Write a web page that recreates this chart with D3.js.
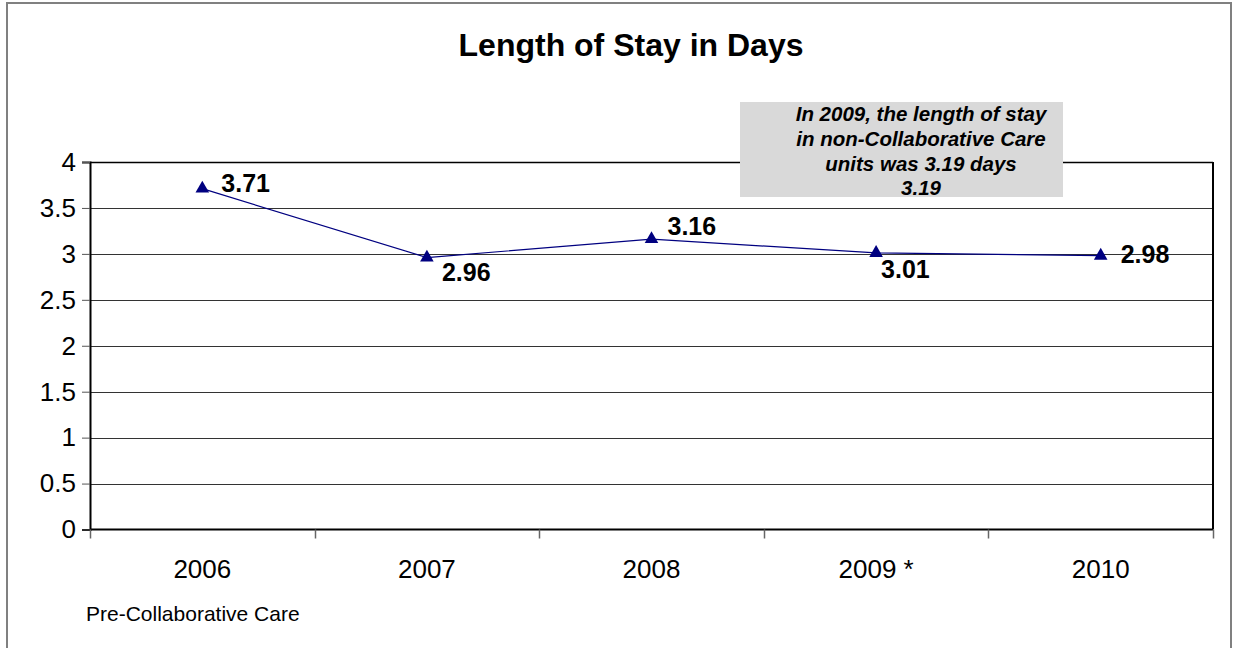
<!DOCTYPE html>
<html>
<head>
<meta charset="utf-8">
<script src="https://cdn.jsdelivr.net/npm/d3@7"></script>
<style>
  html, body { margin: 0; padding: 0; background: #fff; }
  svg { display: block; font-family: Arial, "Liberation Sans", sans-serif; }
</style>
</head>
<body>
<svg id="chart" width="1233" height="648"></svg>
<script>
const categories = ["2006", "2007", "2008", "2009 *", "2010"];
const values = [3.71, 2.96, 3.16, 3.01, 2.98];
const valueLabels = ["3.71", "2.96", "3.16", "3.01", "2.98"];
const yTicks = [0, 0.5, 1, 1.5, 2, 2.5, 3, 3.5, 4];
const titleText = "Length of Stay in Days";
const noteLines = ["In 2009, the length of stay", "in non-Collaborative Care", "units was 3.19 days", "3.19"];
const footText = "Pre-Collaborative Care";

const svg = d3.select("#chart");
const plot = { left: 90, top: 162, right: 1213, bottom: 529.5 };

// outer border
svg.append("rect").attr("x", 7).attr("y", 3).attr("width", 1224).attr("height", 660)
  .attr("fill", "none").attr("stroke", "#808080").attr("stroke-width", 2);

const x = d3.scaleBand().domain(categories).range([plot.left, plot.right]).padding(0);
const y = d3.scaleLinear().domain([0, 4]).range([plot.bottom, plot.top]);

// gridlines
svg.append("g").selectAll("line").data(yTicks.filter(d => d > 0)).join("line")
  .attr("x1", plot.left).attr("x2", plot.right)
  .attr("y1", d => Math.round(y(d)) + 0.5).attr("y2", d => Math.round(y(d)) + 0.5)
  .attr("stroke", "#333").attr("stroke-width", 1);

// plot right border and top
svg.append("line").attr("x1", plot.right).attr("x2", plot.right)
  .attr("y1", plot.top).attr("y2", plot.bottom).attr("stroke", "#000").attr("stroke-width", 2);
svg.append("line").attr("x1", plot.left).attr("x2", plot.right)
  .attr("y1", Math.round(y(4)) + 0.5).attr("y2", Math.round(y(4)) + 0.5).attr("stroke", "#000").attr("stroke-width", 1.5);

// Y axis
const yAxis = svg.append("g").attr("transform", `translate(${plot.left},0)`)
  .call(d3.axisLeft(y).tickValues(yTicks).tickSize(8).tickPadding(6).tickFormat(d => String(d)));
yAxis.select(".domain").attr("stroke", "#000").attr("stroke-width", 2);
yAxis.selectAll(".tick line").attr("stroke", "#555");
yAxis.selectAll(".tick text").attr("font-size", 26).attr("fill", "#000")
  .attr("font-family", "Arial, 'Liberation Sans', sans-serif");

// X axis (ticks between categories)
const xAxisG = svg.append("g").attr("transform", `translate(0,${plot.bottom})`);
xAxisG.append("line").attr("x1", plot.left).attr("x2", plot.right).attr("y1", 0).attr("y2", 0)
  .attr("stroke", "#000").attr("stroke-width", 2);
const boundaries = categories.map(c => x(c)).concat([x(categories[categories.length - 1]) + x.bandwidth()]);
xAxisG.selectAll("line.tk").data(boundaries).join("line").attr("class", "tk")
  .attr("x1", d => Math.round(d) + 0.5).attr("x2", d => Math.round(d) + 0.5)
  .attr("y1", 0).attr("y2", 9).attr("stroke", "#666").attr("stroke-width", 1.5);
xAxisG.selectAll("text").data(categories).join("text")
  .attr("x", d => x(d) + x.bandwidth() / 2).attr("y", 48)
  .attr("text-anchor", "middle").attr("font-size", 26).attr("fill", "#000").text(d => d);

// annotation box
svg.append("rect").attr("x", 740).attr("y", 102).attr("width", 323).attr("height", 95).attr("fill", "#d9d9d9");
const noteY = [121, 145.5, 170.5, 194.5];
svg.append("g").selectAll("text").data(noteLines).join("text")
  .attr("x", 921).attr("y", (d, i) => noteY[i]).attr("text-anchor", "middle")
  .attr("font-size", 20.5).attr("font-weight", "bold").attr("font-style", "italic").attr("fill", "#000")
  .text(d => d);

// line
const pts = categories.map((c, i) => ({ c, v: values[i], lab: valueLabels[i] }));
const line = d3.line().x(d => x(d.c) + x.bandwidth() / 2).y(d => y(d.v));
svg.append("path").datum(pts).attr("d", line).attr("fill", "none").attr("stroke", "#000080").attr("stroke-width", 1.2);

// markers
const tri = d3.symbol().type(d3.symbolTriangle).size(80);
svg.append("g").selectAll("path").data(pts).join("path")
  .attr("d", tri).attr("transform", d => `translate(${x(d.c) + x.bandwidth() / 2},${y(d.v)})`)
  .attr("fill", "#000080");

// data labels
const labOffsets = [[19, 3], [15, 23], [16, -4], [5, 25], [20, 7]];
svg.append("g").selectAll("text").data(pts).join("text")
  .attr("x", (d, i) => x(d.c) + x.bandwidth() / 2 + labOffsets[i][0])
  .attr("y", (d, i) => y(d.v) + labOffsets[i][1])
  .attr("font-size", 25).attr("font-weight", "bold").attr("fill", "#000")
  .text(d => d.lab);

// title
svg.append("text").attr("x", 631).attr("y", 56).attr("text-anchor", "middle")
  .attr("font-size", 32).attr("font-weight", "bold").attr("fill", "#000").text(titleText);

// footnote
svg.append("text").attr("x", 86).attr("y", 621).attr("font-size", 21).attr("fill", "#000").text(footText);
</script>
</body>
</html>
